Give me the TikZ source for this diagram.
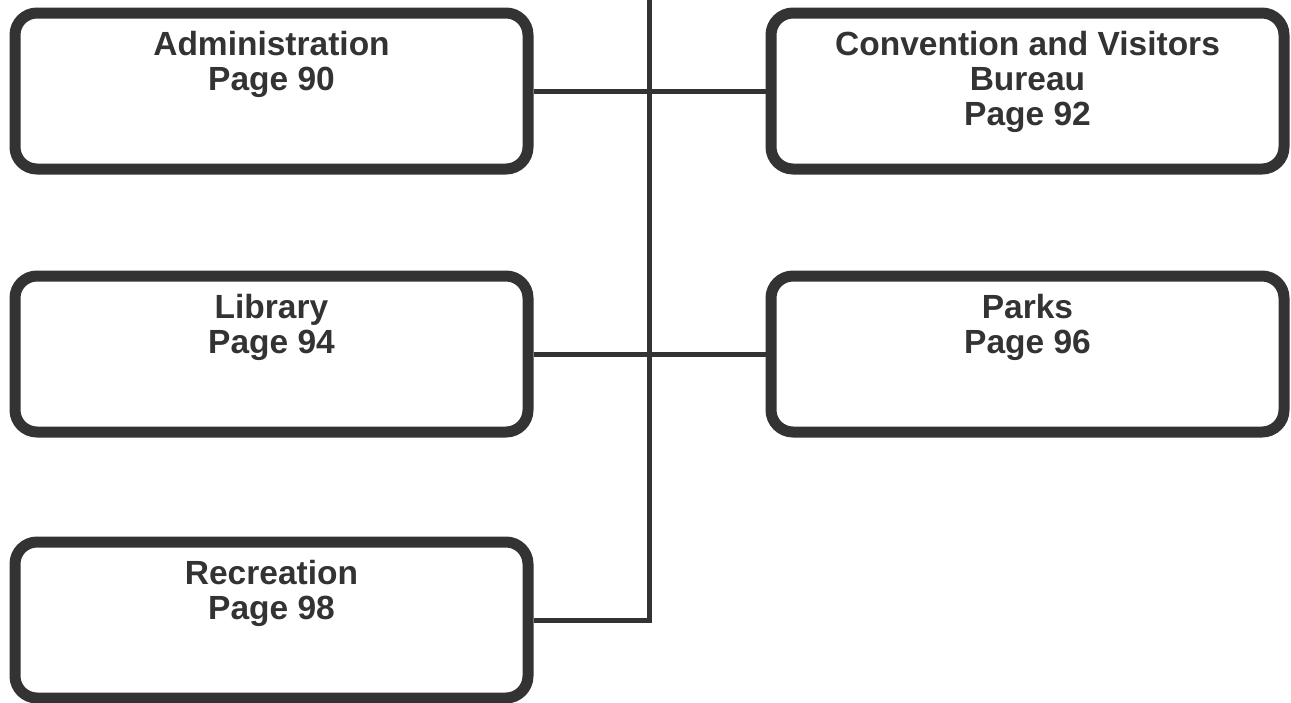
\documentclass[tikz,border=0pt]{standalone}
\usepackage{fontspec}
\setmainfont{Liberation Sans}
\usetikzlibrary{positioning}
\definecolor{linegray}{HTML}{333333}
\tikzstyle{unit} = [rectangle, rounded corners=22pt, minimum width=513pt, minimum height=156pt, inner sep=0pt, draw=linegray, line width=11pt, text=linegray, font=\bfseries\fontsize{33.5}{35}\selectfont]
\tikzstyle{link} = [draw=linegray, line width=5pt]
\newcommand{\unittext}[1]{\parbox[c][150pt][t]{500pt}{\centering\vspace*{15pt}#1}}

\begin{document}
\begin{tikzpicture}[x=1pt, y=-1pt]
    \useasboundingbox (0,0) rectangle (1291,702);

    \node (admin) [unit] at (271.5,91) {\unittext{Administration\\Page 90}};
    \node (bureau) [unit, right=232pt of admin] {\unittext{Convention and Visitors\\Bureau\\Page 92}};
    \node (library) [unit, below=96pt of admin] {\unittext{Library\\Page 94}};
    \node (parks) [unit, right=232pt of library] {\unittext{Parks\\Page 96}};
    \node (recreation) [unit, below=99pt of library] {\unittext{Recreation\\Page 98}};

    \coordinate (trunk) at (649,0);

    \draw [link] (trunk) |- (recreation.east);
    \draw [link] (admin.east) -- (bureau.west);
    \draw [link] (library.east) -- (parks.west);

\end{tikzpicture}
\end{document}
